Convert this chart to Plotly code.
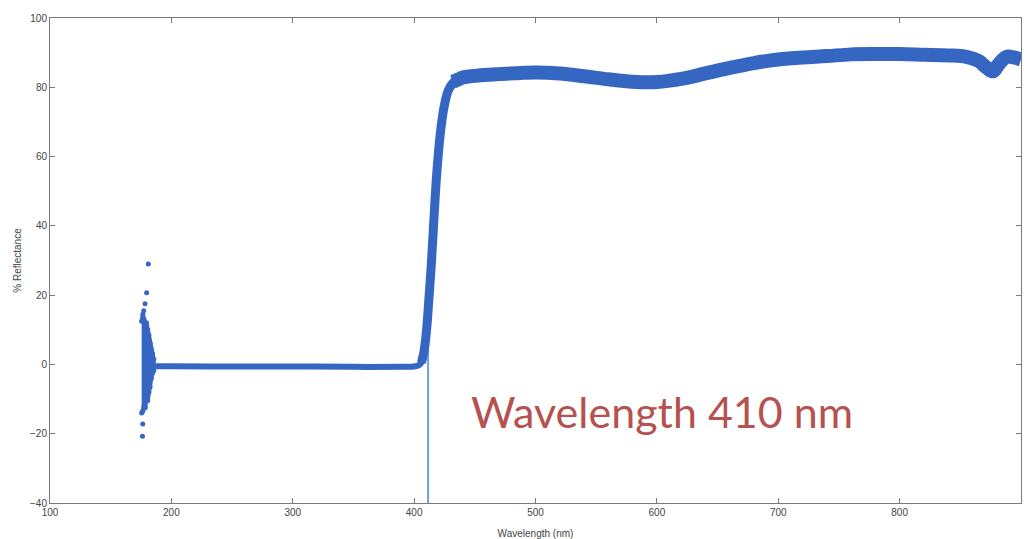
import plotly.graph_objects as go

# ---- data ----
# main reflectance curve (band centre)
flat_wl = [184, 200, 250, 300, 350, 390, 400, 404, 407]
flat_r = [-0.5, -0.5, -0.6, -0.6, -0.7, -0.7, -0.6, -0.2, 1.0]

rise_wl = [406, 408, 410, 412, 414, 416, 418, 420, 422, 424, 426, 428, 431, 434]
rise_r = [0.5, 3.5, 9.0, 18.0, 28.0, 40.0, 52.0, 61.0, 68.0, 73.0, 76.5, 79.0, 80.8, 82.0]

plat_wl = [432, 436, 440, 450, 470, 500, 520, 540, 560, 580, 600, 620, 640, 660,
           680, 700, 720, 740, 760, 780, 800, 820, 840, 855, 865, 872, 877, 882,
           888, 894, 900]
plat_r = [81.6, 82.2, 82.8, 83.3, 83.8, 84.3, 84.0, 83.2, 82.3, 81.6, 81.5, 82.4, 84.0, 85.6,
          87.0, 88.0, 88.6, 89.0, 89.5, 89.6, 89.6, 89.4, 89.2, 88.8, 87.6, 85.6, 84.6, 86.8,
          88.8, 88.6, 88.0]

# noisy cluster near 175-186 nm: column min / max
clu_wl = [175.5, 176.5, 177.5, 178.5, 179.5, 180.5, 181.5, 182.5, 183.5, 184.5, 185.5]
clu_lo = [-14.0, -13.5, -12.0, -12.5, -10.0, -10.5, -8.0, -6.5, -4.0, -2.5, -1.8]
clu_hi = [12.5, 14.5, 13.0, 11.5, 12.0, 10.0, 8.5, 6.0, 4.0, 3.0, 1.5]

# isolated outlier points
out_wl = [181.0, 179.6, 178.3, 177.2, 176.4, 176.2]
out_r = [29.0, 20.7, 17.5, 15.5, -17.2, -20.7]

# marker line at 410 nm
vline_wl = [411.5, 411.5]
vline_r = [-40, 30]

x_ticks = [100, 200, 300, 400, 500, 600, 700, 800, 900]
y_ticks = [-40, -20, 0, 20, 40, 60, 80, 100]

BLUE = "#3566c2"

fig = go.Figure()

fig.add_trace(go.Scatter(x=vline_wl, y=vline_r, mode="lines",
                         line=dict(color="#6aa3db", width=2), hoverinfo="skip"))

# cluster outline polygon (upper edge left->right, lower edge right->left)
poly_x = clu_wl + clu_wl[::-1]
poly_y = clu_hi + clu_lo[::-1]
fig.add_trace(go.Scatter(x=poly_x, y=poly_y, mode="lines", fill="toself",
                         fillcolor=BLUE, line=dict(color=BLUE, width=4)))
fig.add_trace(go.Scatter(x=clu_wl + clu_wl, y=clu_hi + clu_lo, mode="markers",
                         marker=dict(color=BLUE, size=5)))

fig.add_trace(go.Scatter(x=out_wl, y=out_r, mode="markers",
                         marker=dict(color=BLUE, size=5)))

fig.add_trace(go.Scatter(x=flat_wl, y=flat_r, mode="lines",
                         line=dict(color=BLUE, width=6, shape="spline")))
fig.add_trace(go.Scatter(x=rise_wl, y=rise_r, mode="lines",
                         line=dict(color=BLUE, width=9, shape="spline")))
fig.add_trace(go.Scatter(x=plat_wl, y=plat_r, mode="lines",
                         line=dict(color=BLUE, width=14, shape="spline")))

axis_common = dict(
    showgrid=False, zeroline=False, showline=True, linecolor="#7a7a7a", linewidth=1,
    mirror="ticks", ticks="inside", ticklen=5, tickcolor="#7a7a7a", automargin=False,
    tickfont=dict(family="Liberation Sans, Arial", size=10, color="#444444"),
)

fig.update_xaxes(range=[100, 900], tickvals=x_ticks,
                 title=dict(text="Wavelength (nm)", standoff=12,
                            font=dict(family="Liberation Sans, Arial", size=10, color="#444444")),
                 **axis_common)
fig.update_yaxes(range=[-40, 100], tickvals=y_ticks,
                 title=dict(text="% Reflectance", standoff=6,
                            font=dict(family="Liberation Sans, Arial", size=10, color="#444444")),
                 **axis_common)

fig.add_annotation(x=604, y=-13.5, xref="x", yref="y", text="Wavelength 410 nm",
                   showarrow=False, xanchor="center", yanchor="middle",
                   font=dict(family="Lato, Open Sans", size=43, color="#b5524f"))

fig.update_layout(
    width=1029, height=539, showlegend=False,
    plot_bgcolor="white", paper_bgcolor="white",
    margin=dict(l=50, r=8, t=18, b=36),
)

fig.write_html("out.html")
